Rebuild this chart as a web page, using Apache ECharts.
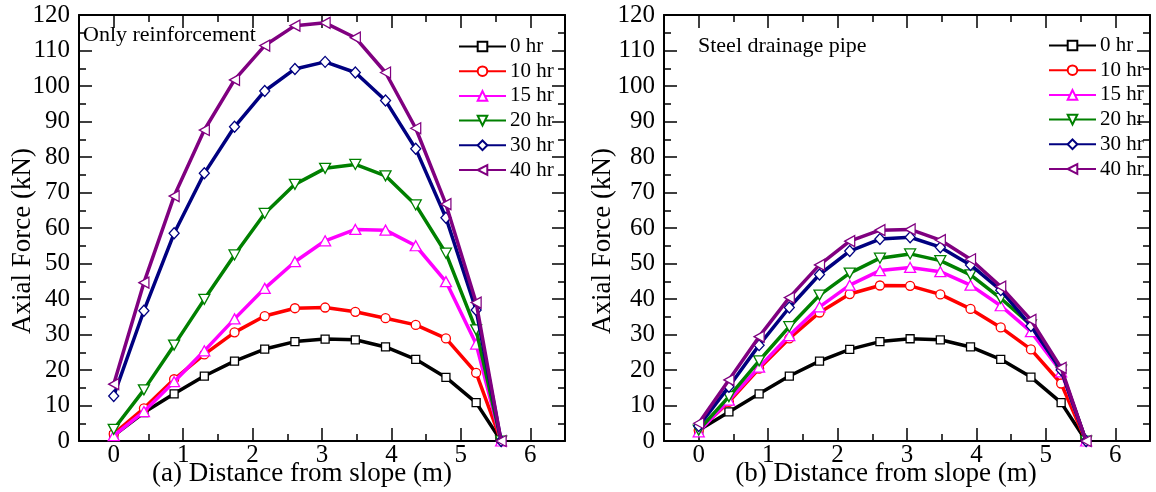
<!DOCTYPE html>
<html>
<head>
<meta charset="utf-8">
<script src="https://cdn.jsdelivr.net/npm/echarts@6/dist/echarts.min.js"></script>
<style>
html,body{margin:0;padding:0;background:#fff;}
#c{width:1156px;height:492px;}
</style>
</head>
<body>
<div id="c"></div>
<script>
// ---------- data ----------
const distance = [0, 0.435, 0.87, 1.305, 1.74, 2.175, 2.61, 3.045, 3.48, 3.915, 4.35, 4.785, 5.22, 5.58];
const seriesNames = ['0 hr', '10 hr', '15 hr', '20 hr', '30 hr', '40 hr'];

// (a) Only reinforcement
const a_0hr  = [1.5, 8.0, 13.3, 18.3, 22.5, 25.9, 28.0, 28.7, 28.5, 26.5, 23.0, 17.9, 10.8, 0];
const a_10hr = [2.0, 9.2, 17.4, 24.4, 30.6, 35.2, 37.4, 37.6, 36.4, 34.6, 32.7, 28.9, 19.2, 0];
const a_15hr = [1.5, 8.3, 16.7, 25.4, 34.4, 43.0, 50.5, 56.4, 59.6, 59.4, 55.0, 44.9, 27.3, 0];
const a_20hr = [3.3, 14.4, 27.0, 39.9, 52.4, 64.1, 72.3, 76.8, 77.9, 74.7, 66.5, 52.9, 31.3, 0];
const a_30hr = [12.7, 36.7, 58.5, 75.4, 88.5, 98.6, 104.8, 106.8, 103.8, 95.9, 82.3, 62.9, 36.9, 0];
const a_40hr = [16.0, 44.6, 69.0, 87.6, 101.7, 111.4, 117.0, 117.8, 113.6, 103.8, 88.1, 66.7, 39.0, 0];

// (b) Steel drainage pipe
const b_0hr  = [3.0, 8.2, 13.3, 18.3, 22.5, 25.8, 28.0, 28.8, 28.5, 26.5, 23.0, 18.0, 10.8, 0];
const b_10hr = [3.0, 11.0, 20.4, 28.9, 36.2, 41.4, 43.8, 43.7, 41.3, 37.2, 32.0, 25.8, 16.2, 0];
const b_15hr = [2.6, 11.5, 20.8, 29.7, 37.8, 43.9, 48.0, 48.9, 47.7, 43.9, 38.1, 30.8, 19.5, 0];
const b_20hr = [3.1, 12.5, 22.6, 32.2, 41.1, 47.3, 51.5, 52.7, 50.8, 46.8, 40.2, 32.7, 20.0, 0];
const b_30hr = [4.2, 15.3, 27.0, 37.6, 46.9, 53.5, 56.9, 57.4, 54.6, 49.6, 42.5, 32.4, 20.0, 0];
const b_40hr = [5.0, 17.2, 29.4, 40.4, 49.6, 56.3, 59.4, 59.6, 56.6, 51.2, 43.5, 34.1, 20.6, 0];

const panelA = [a_0hr, a_10hr, a_15hr, a_20hr, a_30hr, a_40hr];
const panelB = [b_0hr, b_10hr, b_15hr, b_20hr, b_30hr, b_40hr];

const yTicks = [0, 10, 20, 30, 40, 50, 60, 70, 80, 90, 100, 110, 120];
const xTickLabels = [0, 1, 2, 3, 4, 5, 6];

// ---------- styling ----------
const FONT = '"Liberation Serif", "Times New Roman", serif';
const colors = ['#000000', '#ff0000', '#ff00ff', '#008000', '#000080', '#800080'];
const symbols = [
  'rect',
  'circle',
  'path://M5,0 L10,9 L0,9 Z',
  'path://M0,0 L10,0 L5,9 Z',
  'diamond',
  'path://M0,5 L9,0 L9,10 Z'
];
const symSizes = [8, 9, [11, 10], [11, 10], [10, 11], [10, 11]];

const grids = [
  {left: 79, top: 15, width: 486, height: 426},
  {left: 79, top: 15, width: 486, height: 426},
  {left: 664, top: 15, width: 486, height: 426},
  {left: 664, top: 15, width: 486, height: 426}
];

function minorX(gridIndex, position, labels) {
  return {
    type: 'value', gridIndex, position, min: -0.5, max: 6.5, interval: 0.5,
    axisLine: {show: true, onZero: false, lineStyle: {color: '#000', width: 2}},
    axisTick: {show: true, inside: true, length: 7, lineStyle: {color: '#000', width: 1.5}},
    axisLabel: {
      show: labels, color: '#000', fontFamily: FONT, fontSize: 25, margin: 2,
      formatter: v => (xTickLabels.indexOf(v) >= 0 ? String(v) : '')
    },
    splitLine: {show: false}
  };
}
function majorX(gridIndex, position) {
  return {
    type: 'value', gridIndex, position, min: -0.5, max: 6.5, splitNumber: 7,
    axisLine: {show: false, onZero: false},
    axisTick: {show: true, inside: true, length: 13, lineStyle: {color: '#000', width: 1.5}},
    axisLabel: {show: false},
    splitLine: {show: false}
  };
}
function mainY(gridIndex, position, labels) {
  return {
    type: 'value', gridIndex, position, min: 0, max: 120, interval: 10,
    axisLine: {show: true, onZero: false, lineStyle: {color: '#000', width: 2}},
    axisTick: {show: true, inside: true, length: 13, lineStyle: {color: '#000', width: 1.5}},
    minorTick: {show: true, splitNumber: 2, length: 7, lineStyle: {color: '#000', width: 1.5}},
    axisLabel: {
      show: labels, color: '#000', fontFamily: FONT, fontSize: 25, margin: 9,
      formatter: v => (yTicks.indexOf(v) >= 0 ? String(v) : '')
    },
    splitLine: {show: false},
    minorSplitLine: {show: false}
  };
}

const xAxis = [
  minorX(0, 'bottom', true), minorX(0, 'top', false),
  majorX(1, 'bottom'), majorX(1, 'top'),
  minorX(2, 'bottom', true), minorX(2, 'top', false),
  majorX(3, 'bottom'), majorX(3, 'top')
];
const yAxis = [
  mainY(0, 'left', true), mainY(0, 'right', false),
  {type: 'value', gridIndex: 1, min: 0, max: 120, show: false},
  mainY(2, 'left', true), mainY(2, 'right', false),
  {type: 'value', gridIndex: 3, min: 0, max: 120, show: false}
];

const series = [];
function addPanel(values, xi, yi) {
  values.forEach((vals, i) => {
    series.push({
      name: seriesNames[i],
      type: 'line',
      xAxisIndex: xi, yAxisIndex: yi,
      data: distance.map((d, k) => [d, vals[k]]),
      symbol: symbols[i],
      symbolSize: symSizes[i],
      showAllSymbol: true,
      color: colors[i],
      lineStyle: {color: colors[i], width: 3.5},
      itemStyle: {color: '#fff', borderColor: colors[i], borderWidth: 1.3},
      emphasis: {disabled: true},
      animation: false,
      z: 2 + i
    });
  });
}
addPanel(panelA, 0, 0);
addPanel(panelB, 4, 3);

function legendAt(left, top) {
  return {
    orient: 'vertical', left, top,
    data: seriesNames,
    itemWidth: 47, itemHeight: 12, itemGap: 3.7,
    textStyle: {color: '#000', fontFamily: FONT, fontSize: 21, lineHeight: 21, padding: [0, 0, 0, -1]},
    selectedMode: false
  };
}

const option = {
  backgroundColor: '#fff',
  animation: false,
  grid: grids,
  xAxis, yAxis, series,
  legend: [legendAt(453, 31), legendAt(1043, 30)],
  graphic: [
    {type: 'text', left: 83, top: 24, style: {text: 'Only reinforcement', font: '22px ' + FONT, fill: '#000'}},
    {type: 'text', left: 698, top: 35, style: {text: 'Steel drainage pipe', font: '22px ' + FONT, fill: '#000'}},
    {type: 'text', x: 23, y: 241, rotation: Math.PI / 2,
     style: {text: 'Axial Force (kN)', font: '27px ' + FONT, fill: '#000', align: 'center', verticalAlign: 'middle'}},
    {type: 'text', x: 603, y: 241, rotation: Math.PI / 2,
     style: {text: 'Axial Force (kN)', font: '27px ' + FONT, fill: '#000', align: 'center', verticalAlign: 'middle'}},
    {type: 'text', x: 302, y: 474,
     style: {text: '(a) Distance from slope (m)', font: '27px ' + FONT, fill: '#000', align: 'center', verticalAlign: 'middle'}},
    {type: 'text', x: 886, y: 474,
     style: {text: '(b) Distance from slope (m)', font: '27px ' + FONT, fill: '#000', align: 'center', verticalAlign: 'middle'}}
  ]
};

const chart = echarts.init(document.getElementById('c'), null, {renderer: 'canvas'});
chart.setOption(option);
</script>
</body>
</html>
